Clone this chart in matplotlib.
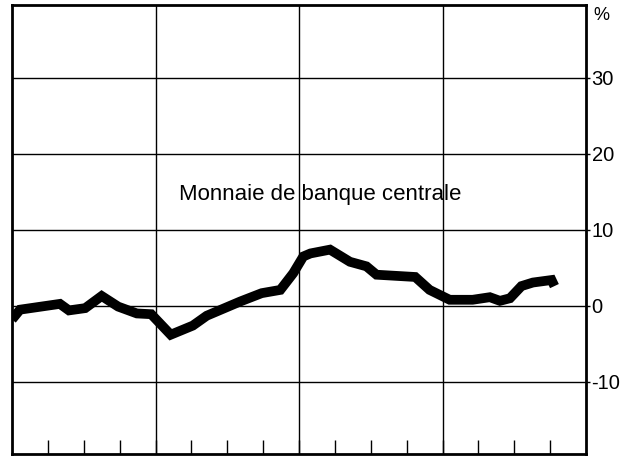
import matplotlib.pyplot as plt
import numpy as np

# years on x (0..4), quarters as ticks; values in %
t = [0.0, 0.056, 0.334, 0.397, 0.51, 0.625, 0.74, 0.87, 0.97, 1.106,
     1.26, 1.357, 1.59, 1.74, 1.87, 1.96, 2.03, 2.08, 2.216, 2.355,
     2.47, 2.54, 2.81, 2.91, 3.05, 3.21, 3.33, 3.40, 3.47, 3.55,
     3.63, 3.76, 3.78]
monnaie = [-1.8, -0.5, 0.26, -0.6, -0.3, 1.3, -0.1, -1.0, -1.1, -3.8,
           -2.6, -1.3, 0.57, 1.67, 2.1, 4.3, 6.5, 6.9, 7.4, 5.8,
           5.2, 4.1, 3.8, 2.1, 0.8, 0.8, 1.14, 0.66, 1.0, 2.6,
           3.07, 3.4, 2.6]
y_ticks = [-10, 0, 10, 20, 30]
y_labels = ['-10', '0', '10', '20', '30']
label = 'Monnaie de banque centrale'

plt.rcParams['font.family'] = ['Liberation Sans', 'DejaVu Sans']

fig = plt.figure(figsize=(6.28, 4.57), dpi=100)
ax = fig.add_axes([12 / 628, 3 / 457, 574 / 628, 449 / 457])

ax.set_xlim(0, 4)
ax.set_ylim(-19.5, 39.6)

for y in y_ticks:
    ax.axhline(y, color='black', lw=1.0, zorder=1)
for x in [1, 2, 3]:
    ax.axvline(x, color='black', lw=1.0, zorder=1)

ax.plot(t, monnaie, color='black', lw=7, solid_joinstyle='miter',
        solid_capstyle='butt', zorder=3)

ax.text(2.145, 14.6, label, fontsize=16, ha='center', va='center', zorder=4)

for s in ax.spines.values():
    s.set_linewidth(2.0)

ax.yaxis.tick_right()
ax.set_yticks(y_ticks)
ax.set_yticklabels(y_labels)
ax.tick_params(axis='y', direction='out', length=3, width=1, pad=1,
               labelsize=14.5)
ax.set_xticks(np.arange(0.25, 4, 0.25))
ax.set_xticklabels([])
ax.tick_params(axis='x', direction='in', length=10, width=1)

fig.text(593 / 628, 1 - 16 / 457, '%', fontsize=13, ha='left', va='center')

plt.savefig('out.png', dpi=100)
